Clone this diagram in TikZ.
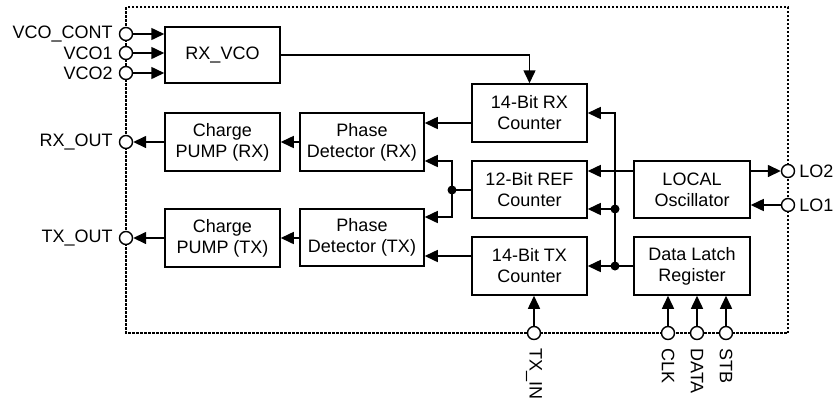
\documentclass[tikz,border=0pt]{standalone}
\usepackage{fontspec}
\setmainfont{Liberation Sans}
\usetikzlibrary{arrows.meta,calc}
\begin{document}
\begin{tikzpicture}[x=1pt,y=-1pt,
  blk/.style={draw,line width=1.5pt,align=center,inner sep=0pt,font=\fontsize{18}{21}\selectfont},
  pin/.style={draw,circle,fill=white,minimum size=13pt,inner sep=0pt,line width=1.4pt},
  lbl/.style={inner sep=0pt,font=\fontsize{18}{21}\selectfont},
  conn/.style={line width=1.5pt,-{Triangle[length=13pt,width=12pt]}},
  wire/.style={line width=1.5pt},
  dot/.style={circle,fill,inner sep=0pt,minimum size=9pt}]
\useasboundingbox (0,0) rectangle (838,400);
\draw[line width=1.2pt,dash pattern=on 2.5pt off 1.5pt] (126,7) rectangle (788,333);
% blocks
\node[blk,minimum width=115pt,minimum height=56pt] (rxvco) at (222.5,55) {RX\_VCO};
\node[blk,minimum width=115pt,minimum height=58pt] (cprx) at (222.5,142) {Charge\\PUMP (RX)};
\node[blk,minimum width=115pt,minimum height=58pt] (cptx) at (222.5,238) {Charge\\PUMP (TX)};
\node[blk,minimum width=124pt,minimum height=58pt] (pdrx) at (362,142) {Phase\\Detector (RX)};
\node[blk,minimum width=124pt,minimum height=57pt] (pdtx) at (362,237.5) {Phase\\Detector (TX)};
\node[blk,minimum width=115pt,minimum height=58pt] (rxc) at (529.5,113) {14-Bit RX\\Counter};
\node[blk,minimum width=115pt,minimum height=57pt] (refc) at (529.5,189.5) {12-Bit REF\\Counter};
\node[blk,minimum width=115pt,minimum height=58pt] (txc) at (529.5,266) {14-Bit TX\\Counter};
\node[blk,minimum width=116pt,minimum height=57pt] (lo) at (692,189.5) {LOCAL\\Oscillator};
\node[blk,minimum width=116pt,minimum height=58pt] (dl) at (692,266) {Data Latch\\Register};
% pins
\node[pin] (vcocont) at (126,34) {};
\node[pin] (vco1) at (126,53) {};
\node[pin] (vco2) at (126,73) {};
\node[pin] (rxout) at (126,142) {};
\node[pin] (txout) at (126,238) {};
\node[pin] (lo2) at (788,171) {};
\node[pin] (lo1) at (788,205) {};
\node[pin] (txin) at (534,333) {};
\node[pin] (clk) at (668,333) {};
\node[pin] (data) at (697,333) {};
\node[pin] (stb) at (726,333) {};
% pin labels
\node[lbl,anchor=east] (lvcocont) at ($(vcocont.west)+(-6,0)$) {VCO\_CONT};
\node[lbl,anchor=east] (lvco1) at ($(vco1.west)+(-6,0)$) {VCO1};
\node[lbl,anchor=east] (lvco2) at ($(vco2.west)+(-6,0)$) {VCO2};
\node[lbl,anchor=east] (lrxout) at ($(rxout.west)+(-6,0)$) {RX\_OUT};
\node[lbl,anchor=east] (ltxout) at ($(txout.west)+(-6,0)$) {TX\_OUT};
\node[lbl,anchor=west] (llo2) at ($(lo2.east)+(4,0)$) {LO2};
\node[lbl,anchor=west] (llo1) at ($(lo1.east)+(4,0)$) {LO1};
\node[lbl,rotate=-90,anchor=west] (ltxin) at ($(txin.south)+(0,8)$) {TX\_IN};
\node[lbl,rotate=-90,anchor=west] (lclk) at ($(clk.south)+(0,8)$) {CLK};
\node[lbl,rotate=-90,anchor=west] (ldata) at ($(data.south)+(0,8)$) {DATA};
\node[lbl,rotate=-90,anchor=west] (lstb) at ($(stb.south)+(0,8)$) {STB};
% helper coordinates
\coordinate (pdrxa) at ($(pdrx.east)+(0,-19)$);
\coordinate (pdrxb) at ($(pdrx.east)+(0,19)$);
\coordinate (pdtxa) at ($(pdtx.east)+(0,-20.5)$);
\coordinate (pdtxb) at ($(pdtx.east)+(0,18.5)$);
\node[dot] (j1) at (452,190) {};
\node[dot] (j2) at (615,209) {};
\node[dot] (j3) at (615,266) {};
% connectors
\draw[conn] (vcocont) -- (rxvco.west |- vcocont);
\draw[conn] (vco1) -- (rxvco.west |- vco1);
\draw[conn] (vco2) -- (rxvco.west |- vco2);
\draw[conn] (rxvco.east) -| (rxc.north);
\draw[conn] (rxc.west |- pdrxa) -- (pdrxa);
\draw[wire] (refc.west |- j1) -- (j1.center);
\draw[conn] (j1.center) |- (pdrxb);
\draw[conn] (j1.center) |- (pdtxa);
\draw[conn] (txc.west |- pdtxb) -- (pdtxb);
\draw[conn] (pdrx.west) -- (cprx.east);
\draw[conn] (pdtx.west |- cptx) -- (cptx.east);
\draw[conn] (cprx.west) -- (rxout);
\draw[conn] (cptx.west) -- (txout);
\draw[conn] (lo.east |- lo2) -- (lo2);
\draw[conn] (lo1) -- (lo.east |- lo1);
\draw[conn] (lo.west |- lo2) -- (refc.east |- lo2);
\draw[wire] (dl.west |- j3) -- (j3.center);
\draw[conn] (j3.center) -- (txc.east |- j3);
\draw[conn] (j2.center) -- (refc.east |- j2);
\draw[conn] (j3.center) -- (j2.center) |- (rxc.east);
\draw[conn] (txin) -- (txc.south -| txin);
\draw[conn] (clk) -- (dl.south -| clk);
\draw[conn] (data) -- (dl.south -| data);
\draw[conn] (stb) -- (dl.south -| stb);
\end{tikzpicture}
\end{document}
